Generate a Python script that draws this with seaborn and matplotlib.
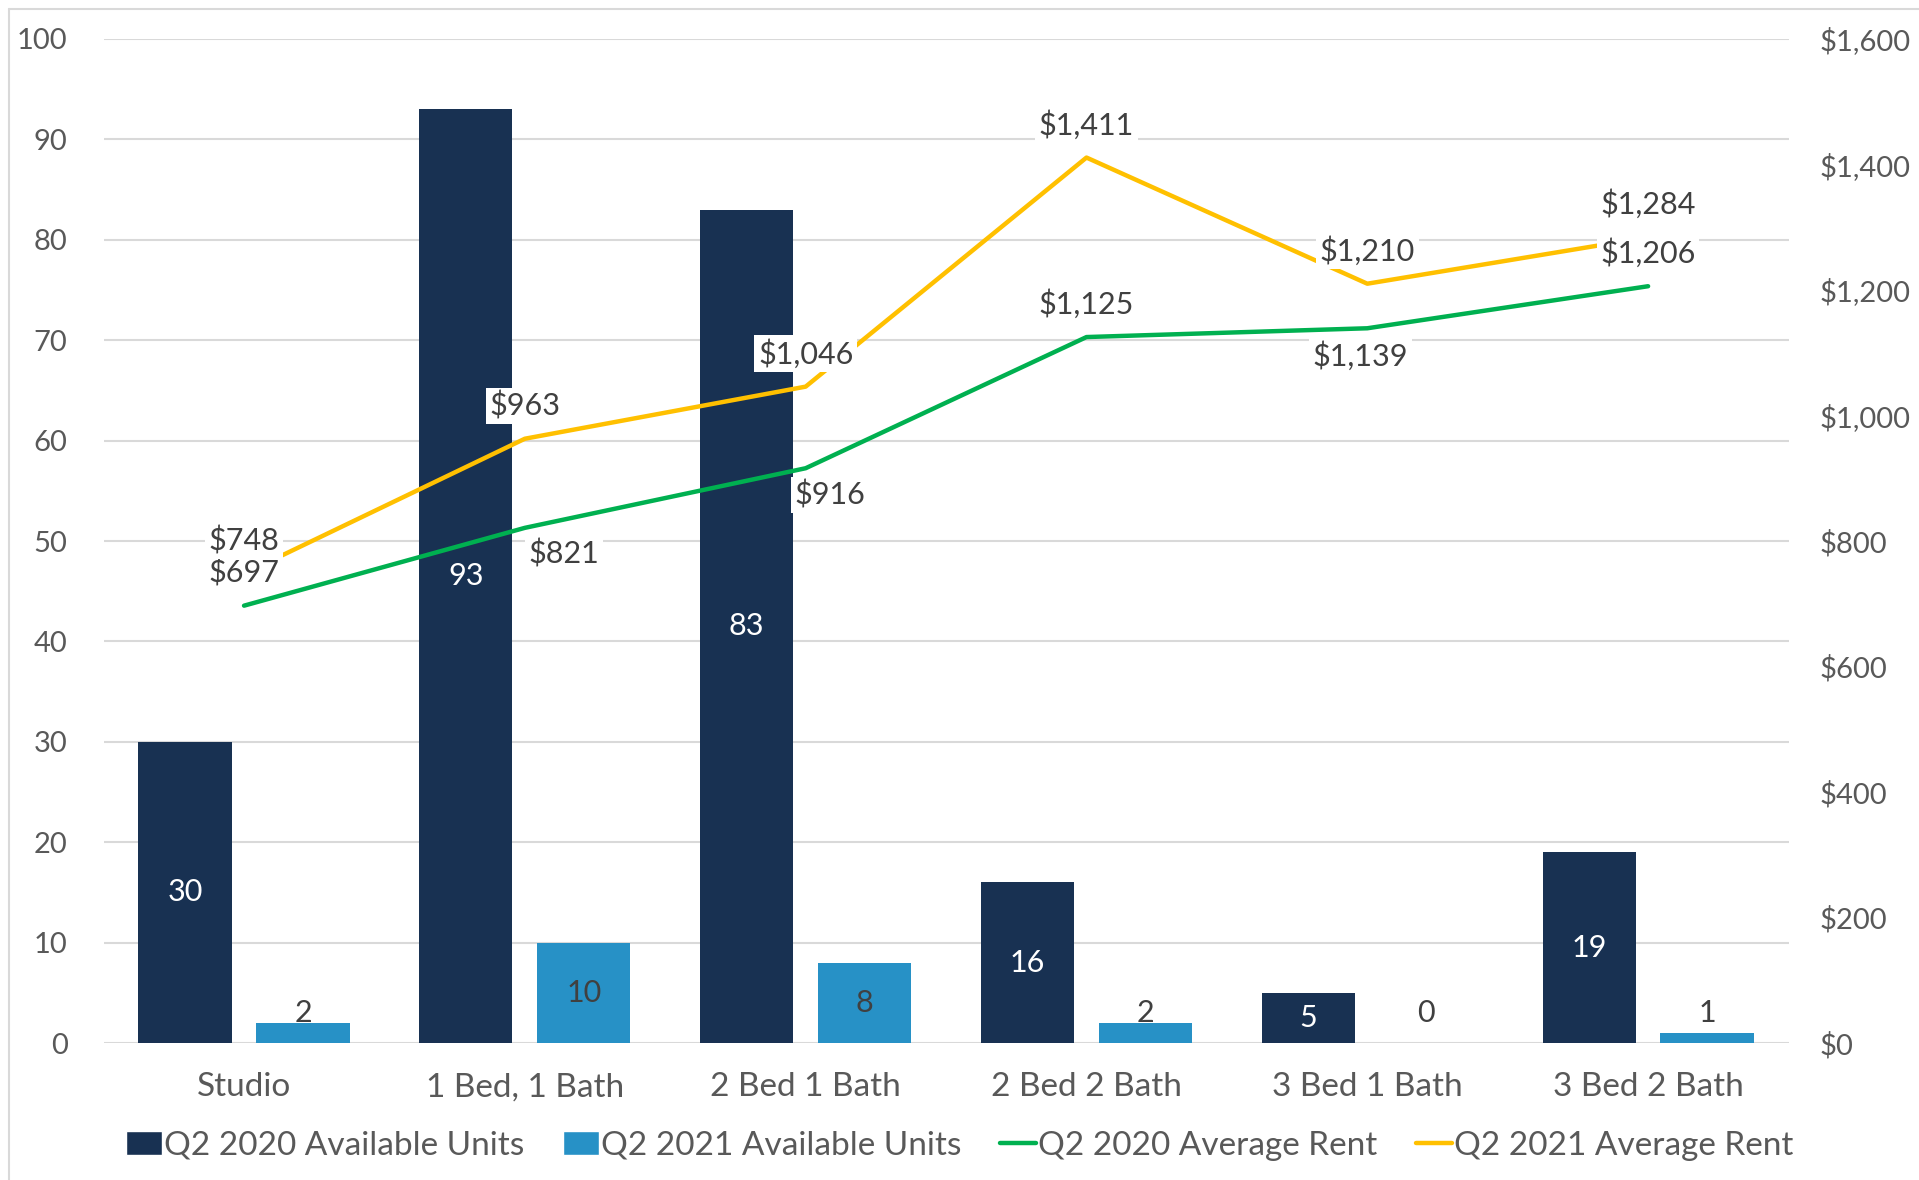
import numpy as np
import pandas as pd
import seaborn as sns
import matplotlib.pyplot as plt
from matplotlib.lines import Line2D
from matplotlib.patches import Patch
from matplotlib.ticker import FuncFormatter, MultipleLocator

# chart values
categories = ['Studio', '1 Bed, 1 Bath', '2 Bed 1 Bath', '2 Bed 2 Bath', '3 Bed 1 Bath', '3 Bed 2 Bath']
units_2020 = [30, 93, 83, 16, 5, 19]
units_2021 = [2, 10, 8, 2, 0, 1]
rent_2020 = [697, 821, 916, 1125, 1139, 1206]
rent_2021 = [748, 963, 1046, 1411, 1210, 1284]

series_names = ['Q2 2020 Available Units', 'Q2 2021 Available Units',
                'Q2 2020 Average Rent', 'Q2 2021 Average Rent']

NAVY = '#183152'
BLUE = '#2791c6'
GREEN = '#00b050'
GOLD = '#ffc000'
GRID = '#d9d9d9'
TXT = '#595959'
LBL = '#404040'

sns.set_style('white')
plt.rcParams['font.family'] = ['Lato', 'DejaVu Sans']

# long table for the bars
bars = pd.DataFrame({
    'category': categories * 2,
    'units': units_2020 + units_2021,
    'series': [series_names[0]] * len(categories) + [series_names[1]] * len(categories),
})

fig = plt.figure(figsize=(19.19, 11.80), dpi=100)
ax = fig.add_axes([0.054, 0.116, 0.878, 0.851])

sns.barplot(data=bars, x='category', y='units', hue='series', order=categories,
            hue_order=series_names[:2], palette=[NAVY, BLUE], width=0.84, gap=0.21,
            saturation=1, ax=ax, legend=False, zorder=2, linewidth=0)

ax.set_xlim(-0.5, len(categories) - 0.5)
ax.set_ylim(0, 100)
ax.yaxis.set_major_locator(MultipleLocator(10))
ax.grid(axis='y', color=GRID, linewidth=1.5, zorder=0)
ax.set_axisbelow(True)
for s in ax.spines.values():
    s.set_visible(False)
ax.set_xlabel('')
ax.set_ylabel('')
ax.tick_params(axis='x', length=0, pad=21, labelsize=24, labelcolor=TXT)
ax.tick_params(axis='y', length=0, pad=26, labelsize=21, labelcolor=TXT)

# bar value labels
for i, v in enumerate(units_2020):
    ax.text(i - 0.21, v / 2, str(v), ha='center', va='center', fontsize=22, color='white', zorder=5)
for i, v in enumerate(units_2021):
    ax.text(i + 0.21, max(v / 2, 3.0), str(v), ha='center', va='center', fontsize=22, color=LBL, zorder=5)

# rent lines on the right axis
ax2 = ax.twinx()
xs = np.arange(len(categories))
sns.lineplot(x=xs, y=rent_2020, ax=ax2, color=GREEN, linewidth=3.2, zorder=3)
sns.lineplot(x=xs, y=rent_2021, ax=ax2, color=GOLD, linewidth=3.2, zorder=3)
ax2.set_xlim(-0.5, len(categories) - 0.5)
ax2.set_ylim(0, 1600)
ax2.yaxis.set_major_locator(MultipleLocator(200))
ax2.yaxis.set_major_formatter(FuncFormatter(lambda v, p: f'${v:,.0f}'))
for s in ax2.spines.values():
    s.set_visible(False)
ax2.tick_params(axis='y', length=0, pad=22, labelsize=21, labelcolor=TXT)
ax2.set_ylabel('')

box = dict(boxstyle='square,pad=0.12', facecolor='white', edgecolor='none')
up = (0, 33)
offs_2020 = [up, (39, -26), (24, -27), up, (-7, -28), up]
offs_2021 = [up] * len(categories)
for i, (v, o) in enumerate(zip(rent_2020, offs_2020)):
    ax2.annotate(f'${v:,}', (i, v), xytext=o, textcoords='offset pixels', ha='center',
                 va='center', fontsize=22, color=LBL, bbox=box, zorder=6)
for i, (v, o) in enumerate(zip(rent_2021, offs_2021)):
    ax2.annotate(f'${v:,}', (i, v), xytext=o, textcoords='offset pixels', ha='center',
                 va='center', fontsize=22, color=LBL, bbox=box, zorder=6)

handles = [Patch(facecolor=NAVY), Patch(facecolor=BLUE),
           Line2D([], [], color=GREEN, linewidth=3.2), Line2D([], [], color=GOLD, linewidth=3.2)]
leg = fig.legend(handles, series_names, loc='center', bbox_to_anchor=(0.5, 0.029), ncol=4,
                 frameon=False, fontsize=24, handlelength=1.1, handleheight=0.7,
                 handletextpad=0.05, columnspacing=1.15)
for t in leg.get_texts():
    t.set_color(TXT)

# light chart border
fig.add_artist(Line2D([9 / 1919, 9 / 1919], [0, 1 - 9 / 1180], transform=fig.transFigure, color=GRID, linewidth=1.5))
fig.add_artist(Line2D([9 / 1919, 1], [1 - 9 / 1180, 1 - 9 / 1180], transform=fig.transFigure, color=GRID, linewidth=1.5))

fig.savefig('out.png', dpi=100)
